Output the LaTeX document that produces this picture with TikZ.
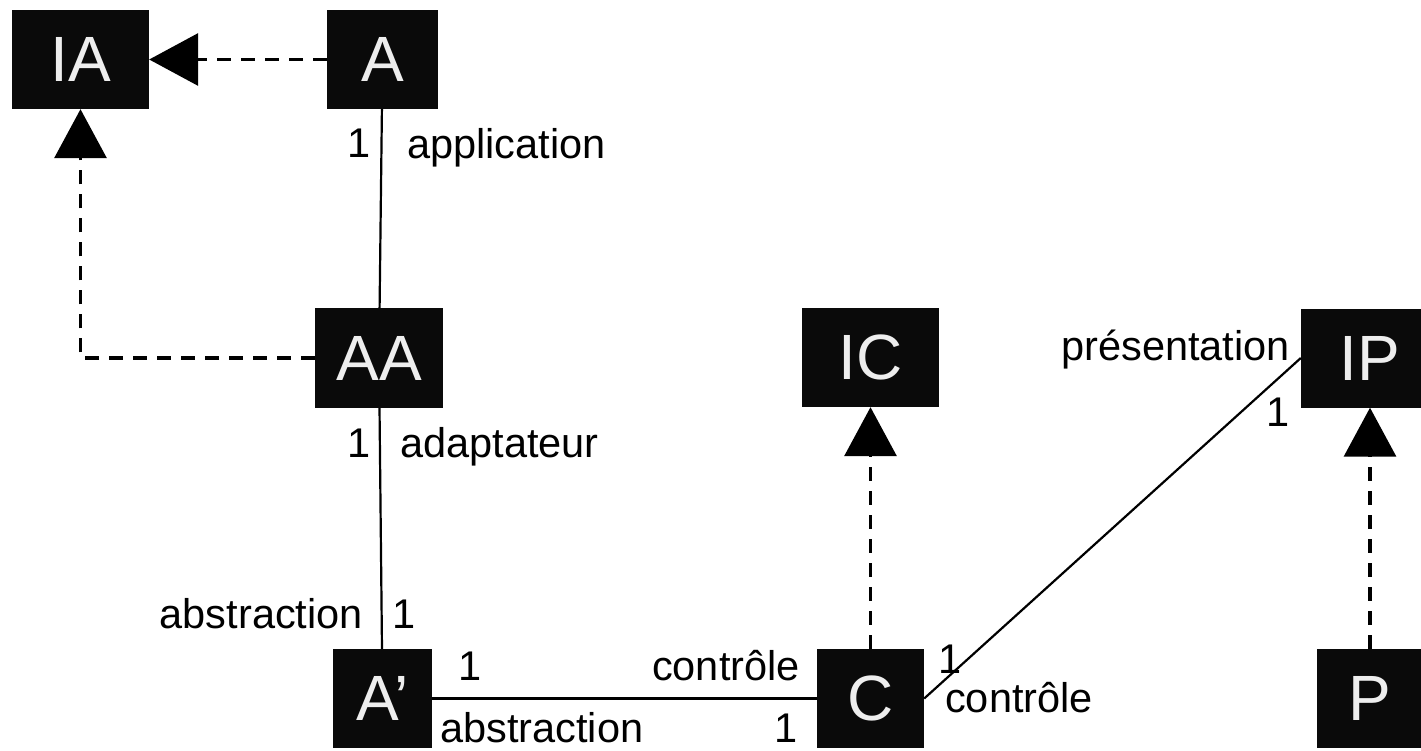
\documentclass[tikz,border=0pt]{standalone}
\usepackage{fontspec}
\setmainfont{Liberation Sans}
\usetikzlibrary{arrows.meta}
\definecolor{boxfill}{HTML}{0A0A0A}
\definecolor{boxtext}{HTML}{EEEEEE}
\tikzset{
  cls/.style={fill=boxfill, draw=none, inner sep=0pt, minimum height=99pt,
    text=boxtext, font=\fontsize{64}{64}\selectfont},
  lab/.style={inner sep=0pt, font=\fontsize{41.5}{41.5}\selectfont},
  solidline/.style={line width=2.2pt},
  realize/.style={line width=3.3pt, dash pattern=on 14pt off 10pt,
    -{Triangle[length=49pt,width=52pt]}},
}
\begin{document}
\begin{tikzpicture}[x=1pt,y=-1pt]
\useasboundingbox (0,0) rectangle (1421,750);
\node[cls, minimum width=137pt] (IA) at (80.5,59.5) {IA};
\node[cls, minimum width=111pt] (A) at (382.5,59.5) {A};
\node[cls, minimum width=128pt, minimum height=100pt] (AA) at (379,358) {AA};
\node[cls, minimum width=137pt] (IC) at (870.5,357.5) {IC};
\node[cls, minimum width=138pt] (IP) at (1370,358) {IP};
\node[cls, minimum width=99pt] (Ap) at (382.5,698.5) {A’};
\node[cls, minimum width=107pt] (C) at (870.5,698.5) {C};
\node[cls, minimum width=107pt] (P) at (1370,698.5) {P};

\draw[realize] (A.west) -- (IA.east);
\draw[realize] (AA.west) -| (IA.south);
\draw[solidline] (A) -- (AA);
\draw[solidline] (AA) -- (Ap);
\draw[solidline] (Ap) -- (C);
\draw[realize] (C) -- (IC);
\draw[realize] (P) -- (IP);
\draw[solidline] (C.east) -- (IP.west);

\node[lab, anchor=base] (l1) at (359,157) {1};
\node[lab, anchor=base west] (l2) at (407,158) {application};
\node[lab, anchor=base] (l3) at (359,457) {1};
\node[lab, anchor=base west] (l4) at (400,457) {adaptateur};
\node[lab, anchor=base east] (l5) at (363,628) {abstraction};
\node[lab, anchor=base] (l6) at (404,628) {1};
\node[lab, anchor=base] (l7) at (470,680) {1};
\node[lab, anchor=base east] (l8) at (800,680) {contrôle};
\node[lab, anchor=base west] (l9) at (440,742) {abstraction};
\node[lab, anchor=base] (l10) at (786,742) {1};
\node[lab, anchor=base] (l11) at (950,673) {1};
\node[lab, anchor=base west] (l12) at (945,712) {contrôle};
\node[lab, anchor=base east] (l13) at (1290,360) {présentation};
\node[lab, anchor=base] (l14) at (1278,426) {1};
\end{tikzpicture}
\end{document}
